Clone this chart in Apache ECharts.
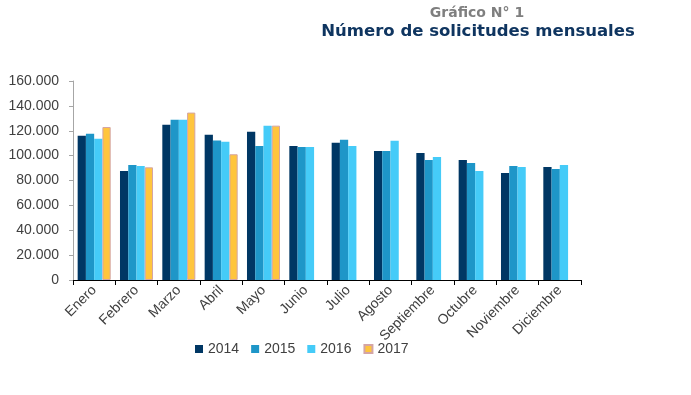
<!DOCTYPE html>
<html>
<head>
<meta charset="utf-8">
<script src="https://cdn.jsdelivr.net/npm/echarts@6/dist/echarts.min.js"></script>
<style>html,body{margin:0;padding:0;background:#fff;}#c{width:691px;height:395px;}</style>
</head>
<body>
<div id="c"></div>
<script>
const categories = ['Enero','Febrero','Marzo','Abril','Mayo','Junio','Julio','Agosto','Septiembre','Octubre','Noviembre','Diciembre'];
const years = ['2014','2015','2016','2017'];
const s2014 = [116000, 87600, 124900, 116800, 119200, 107800, 110300, 103800, 102200, 96500, 86000, 90800];
const s2015 = [117500, 92400, 128900, 112200, 107800, 107000, 112700, 103800, 96500, 94100, 91600, 89200];
const s2016 = [113500, 91600, 128900, 111100, 124100, 107000, 107800, 111900, 98900, 87600, 90800, 92400];
const s2017 = [123000, 90600, 134600, 101100, 124100, null, null, null, null, null, null, null];
const yTicks = [0, 20000, 40000, 60000, 80000, 100000, 120000, 140000, 160000];

const colors = ['#003764', '#1E96C8', '#45CBF8', '#FFC53D'];
const seriesData = [s2014, s2015, s2016, s2017];

const chart = echarts.init(document.getElementById('c'));
const fmt = v => v === 0 ? '0' : String(v).replace(/\B(?=(\d{3})+(?!\d))/g, '.');

chart.setOption({
  animation: false,
  title: [
    { text: 'Gráfico N° 1', left: 472, top: 1, textAlign: 'center',
      textStyle: { fontFamily: 'DejaVu Sans', fontSize: 14, fontWeight: 'bold', color: '#7f7f7f' } },
    { text: 'Número de solicitudes mensuales', left: 473, top: 18, textAlign: 'center',
      textStyle: { fontFamily: 'DejaVu Sans', fontSize: 16.5, fontWeight: 'bold', color: '#0f3560' } }
  ],
  legend: {
    data: years,
    top: 337,
    left: 190,
    itemWidth: 8,
    itemHeight: 8,
    itemGap: 12,
    icon: 'rect',
    textStyle: { fontFamily: 'Liberation Sans', fontSize: 14, color: '#404040' }
  },
  grid: { left: 73, right: 110, top: 81, bottom: 115 },
  xAxis: {
    type: 'category',
    data: categories,
    axisLine: { lineStyle: { color: '#000', width: 1 } },
    axisTick: { show: true, alignWithLabel: false, length: 5, lineStyle: { color: '#000' } },
    axisLabel: { interval: 0, rotate: 45, margin: 8, fontFamily: 'Liberation Sans', fontSize: 14, color: '#404040' }
  },
  yAxis: {
    type: 'value',
    min: 0, max: 160000, interval: 20000,
    splitLine: { show: false },
    axisLine: { show: true, lineStyle: { color: '#a6a6a6' } },
    axisTick: { show: true, length: 4, lineStyle: { color: '#a6a6a6' } },
    axisLabel: { margin: 14, fontFamily: 'Liberation Sans', fontSize: 14, color: '#404040',
      formatter: v => yTicks.includes(v) ? fmt(v) : '' }
  },
  series: years.map((y, i) => ({
    name: y,
    type: 'bar',
    data: seriesData[i],
    barGap: '0%',
    barCategoryGap: '22%',
    itemStyle: i === 3 ? { color: colors[i], borderColor: '#d4a5a5', borderWidth: 1 } : { color: colors[i] }
  }))
});
</script>
</body>
</html>
